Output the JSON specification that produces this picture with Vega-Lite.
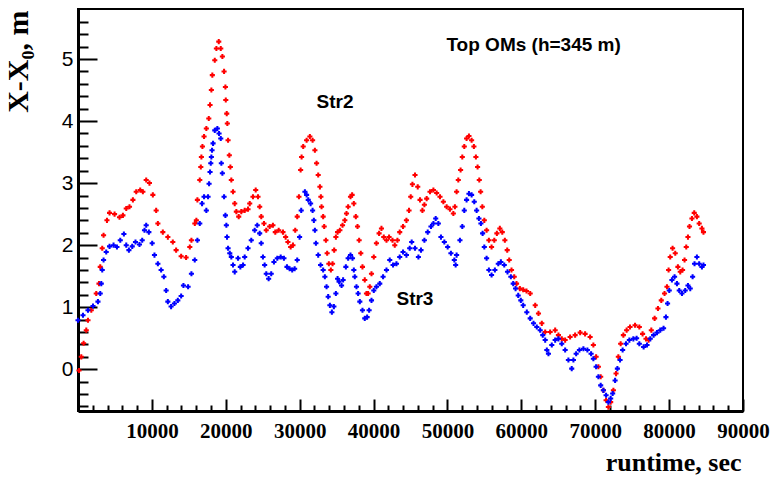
{
  "$schema": "https://vega.github.io/schema/vega-lite/v6.json",
  "autosize": "none",
  "width": 665,
  "height": 402,
  "padding": {"left": 78, "top": 9, "right": 28, "bottom": 69},
  "background": "white",
  "config": {"view": {"stroke": "#000", "strokeWidth": 2}, "axis": {"grid": false}},
  "datasets": {
    "notes": [
      {"label": "Top OMs (h=345 m)", "t": 49860, "v": 5.23},
      {"label": "Str2", "t": 32290, "v": 4.31},
      {"label": "Str3", "t": 43100, "v": 1.14}
    ]
  },
  "layer": [
    {
      "data": {"values": [
        {"s":"Str2","t":135,"v":-0.02},{"s":"Str2","t":446,"v":0.2},{"s":"Str2","t":760,"v":0.42},{"s":"Str2","t":1120,"v":0.63},{"s":"Str2","t":1350,"v":0.79},{"s":"Str2","t":1800,"v":0.95},{"s":"Str2","t":2470,"v":1.22},{"s":"Str2","t":2840,"v":1.38},{"s":"Str2","t":3010,"v":1.65},{"s":"Str2","t":3280,"v":1.95},{"s":"Str2","t":3460,"v":2.16},{"s":"Str2","t":3920,"v":2.4},{"s":"Str2","t":4270,"v":2.52},{"s":"Str2","t":4950,"v":2.5},{"s":"Str2","t":5620,"v":2.45},{"s":"Str2","t":6080,"v":2.48},{"s":"Str2","t":6530,"v":2.59},{"s":"Str2","t":6970,"v":2.62},{"s":"Str2","t":7430,"v":2.73},{"s":"Str2","t":7880,"v":2.86},{"s":"Str2","t":8420,"v":2.89},{"s":"Str2","t":8780,"v":2.86},{"s":"Str2","t":9230,"v":3.05},{"s":"Str2","t":9670,"v":3.0},{"s":"Str2","t":10130,"v":2.81},{"s":"Str2","t":10580,"v":2.56},{"s":"Str2","t":10810,"v":2.35},{"s":"Str2","t":11480,"v":2.21},{"s":"Str2","t":12160,"v":2.13},{"s":"Str2","t":12830,"v":2.05},{"s":"Str2","t":13280,"v":1.92},{"s":"Str2","t":13960,"v":1.82},{"s":"Str2","t":14630,"v":1.8},{"s":"Str2","t":15130,"v":1.97},{"s":"Str2","t":15350,"v":2.08},{"s":"Str2","t":15810,"v":2.35},{"s":"Str2","t":16020,"v":2.4},{"s":"Str2","t":16160,"v":2.73},{"s":"Str2","t":16480,"v":3.05},{"s":"Str2","t":16620,"v":3.26},{"s":"Str2","t":16700,"v":3.42},{"s":"Str2","t":16840,"v":3.59},{"s":"Str2","t":17060,"v":3.75},{"s":"Str2","t":17370,"v":3.88},{"s":"Str2","t":17700,"v":4.04},{"s":"Str2","t":17870,"v":4.26},{"s":"Str2","t":18050,"v":4.5},{"s":"Str2","t":18180,"v":4.74},{"s":"Str2","t":18510,"v":4.98},{"s":"Str2","t":18730,"v":5.17},{"s":"Str2","t":19050,"v":5.28},{"s":"Str2","t":19320,"v":5.17},{"s":"Str2","t":19540,"v":5.04},{"s":"Str2","t":19770,"v":4.8},{"s":"Str2","t":19950,"v":4.55},{"s":"Str2","t":20000,"v":4.34},{"s":"Str2","t":20130,"v":4.12},{"s":"Str2","t":20210,"v":3.96},{"s":"Str2","t":20310,"v":3.69},{"s":"Str2","t":20480,"v":3.45},{"s":"Str2","t":20620,"v":3.26},{"s":"Str2","t":20750,"v":3.05},{"s":"Str2","t":20980,"v":2.86},{"s":"Str2","t":21210,"v":2.67},{"s":"Str2","t":21430,"v":2.54},{"s":"Str2","t":21750,"v":2.46},{"s":"Str2","t":22100,"v":2.54},{"s":"Str2","t":22560,"v":2.56},{"s":"Str2","t":23010,"v":2.58},{"s":"Str2","t":23240,"v":2.67},{"s":"Str2","t":23680,"v":2.78},{"s":"Str2","t":24050,"v":2.89},{"s":"Str2","t":24360,"v":2.78},{"s":"Str2","t":24590,"v":2.62},{"s":"Str2","t":24800,"v":2.46},{"s":"Str2","t":25170,"v":2.35},{"s":"Str2","t":25480,"v":2.24},{"s":"Str2","t":25940,"v":2.3},{"s":"Str2","t":26380,"v":2.32},{"s":"Str2","t":26700,"v":2.21},{"s":"Str2","t":27160,"v":2.24},{"s":"Str2","t":27740,"v":2.21},{"s":"Str2","t":28100,"v":2.13},{"s":"Str2","t":28410,"v":2.05},{"s":"Str2","t":28780,"v":1.97},{"s":"Str2","t":29090,"v":2.0},{"s":"Str2","t":29400,"v":2.24},{"s":"Str2","t":29670,"v":2.46},{"s":"Str2","t":29900,"v":2.78},{"s":"Str2","t":30130,"v":3.21},{"s":"Str2","t":30260,"v":3.42},{"s":"Str2","t":30480,"v":3.59},{"s":"Str2","t":30940,"v":3.69},{"s":"Str2","t":31380,"v":3.75},{"s":"Str2","t":31750,"v":3.69},{"s":"Str2","t":32060,"v":3.53},{"s":"Str2","t":32290,"v":3.32},{"s":"Str2","t":32510,"v":3.13},{"s":"Str2","t":32740,"v":2.94},{"s":"Str2","t":32870,"v":2.78},{"s":"Str2","t":32960,"v":2.62},{"s":"Str2","t":33180,"v":2.46},{"s":"Str2","t":33320,"v":2.3},{"s":"Str2","t":33550,"v":2.08},{"s":"Str2","t":33720,"v":1.87},{"s":"Str2","t":33950,"v":1.7},{"s":"Str2","t":34220,"v":1.6},{"s":"Str2","t":34450,"v":1.7},{"s":"Str2","t":34670,"v":1.92},{"s":"Str2","t":34900,"v":2.13},{"s":"Str2","t":35130,"v":2.21},{"s":"Str2","t":35440,"v":2.24},{"s":"Str2","t":35800,"v":2.32},{"s":"Str2","t":36110,"v":2.4},{"s":"Str2","t":36340,"v":2.51},{"s":"Str2","t":36560,"v":2.62},{"s":"Str2","t":36880,"v":2.78},{"s":"Str2","t":37100,"v":2.81},{"s":"Str2","t":37330,"v":2.67},{"s":"Str2","t":37600,"v":2.46},{"s":"Str2","t":37830,"v":2.3},{"s":"Str2","t":38050,"v":2.08},{"s":"Str2","t":38270,"v":1.87},{"s":"Str2","t":38500,"v":1.65},{"s":"Str2","t":38810,"v":1.44},{"s":"Str2","t":39040,"v":1.22},{"s":"Str2","t":39260,"v":1.22},{"s":"Str2","t":39490,"v":1.33},{"s":"Str2","t":39720,"v":1.54},{"s":"Str2","t":40030,"v":1.81},{"s":"Str2","t":40390,"v":2.03},{"s":"Str2","t":40750,"v":2.19},{"s":"Str2","t":41070,"v":2.27},{"s":"Str2","t":41380,"v":2.13},{"s":"Str2","t":41750,"v":2.08},{"s":"Str2","t":42100,"v":2.13},{"s":"Str2","t":42560,"v":2.08},{"s":"Str2","t":42870,"v":2.0},{"s":"Str2","t":43230,"v":2.08},{"s":"Str2","t":43540,"v":2.21},{"s":"Str2","t":43990,"v":2.3},{"s":"Str2","t":44450,"v":2.4},{"s":"Str2","t":44800,"v":2.56},{"s":"Str2","t":45030,"v":2.78},{"s":"Str2","t":45260,"v":2.98},{"s":"Str2","t":45610,"v":3.13},{"s":"Str2","t":45980,"v":2.94},{"s":"Str2","t":46290,"v":2.73},{"s":"Str2","t":46610,"v":2.56},{"s":"Str2","t":46880,"v":2.65},{"s":"Str2","t":47190,"v":2.75},{"s":"Str2","t":47640,"v":2.86},{"s":"Str2","t":48100,"v":2.89},{"s":"Str2","t":48540,"v":2.84},{"s":"Str2","t":48990,"v":2.78},{"s":"Str2","t":49450,"v":2.7},{"s":"Str2","t":49890,"v":2.62},{"s":"Str2","t":50340,"v":2.58},{"s":"Str2","t":50800,"v":2.51},{"s":"Str2","t":51010,"v":2.62},{"s":"Str2","t":51240,"v":2.86},{"s":"Str2","t":51470,"v":3.05},{"s":"Str2","t":51780,"v":3.21},{"s":"Str2","t":52010,"v":3.42},{"s":"Str2","t":52280,"v":3.59},{"s":"Str2","t":52590,"v":3.72},{"s":"Str2","t":52910,"v":3.76},{"s":"Str2","t":53270,"v":3.69},{"s":"Str2","t":53580,"v":3.59},{"s":"Str2","t":53850,"v":3.42},{"s":"Str2","t":54080,"v":3.26},{"s":"Str2","t":54310,"v":3.05},{"s":"Str2","t":54490,"v":2.86},{"s":"Str2","t":54720,"v":2.62},{"s":"Str2","t":54990,"v":2.4},{"s":"Str2","t":55300,"v":2.24},{"s":"Str2","t":55610,"v":2.08},{"s":"Str2","t":55970,"v":1.97},{"s":"Str2","t":56340,"v":2.08},{"s":"Str2","t":56690,"v":2.19},{"s":"Str2","t":57090,"v":2.27},{"s":"Str2","t":57420,"v":2.21},{"s":"Str2","t":57770,"v":2.08},{"s":"Str2","t":58090,"v":1.92},{"s":"Str2","t":58360,"v":1.76},{"s":"Str2","t":58670,"v":1.6},{"s":"Str2","t":59040,"v":1.49},{"s":"Str2","t":59350,"v":1.38},{"s":"Str2","t":59800,"v":1.3},{"s":"Str2","t":60250,"v":1.28},{"s":"Str2","t":60700,"v":1.26},{"s":"Str2","t":61200,"v":1.22},{"s":"Str2","t":61880,"v":1.03},{"s":"Str2","t":62320,"v":0.9},{"s":"Str2","t":62770,"v":0.74},{"s":"Str2","t":63230,"v":0.6},{"s":"Str2","t":63900,"v":0.6},{"s":"Str2","t":64580,"v":0.63},{"s":"Str2","t":65020,"v":0.55},{"s":"Str2","t":65470,"v":0.49},{"s":"Str2","t":65930,"v":0.47},{"s":"Str2","t":66600,"v":0.52},{"s":"Str2","t":67280,"v":0.55},{"s":"Str2","t":67960,"v":0.59},{"s":"Str2","t":68630,"v":0.57},{"s":"Str2","t":69310,"v":0.52},{"s":"Str2","t":69750,"v":0.39},{"s":"Str2","t":70120,"v":0.2},{"s":"Str2","t":70430,"v":0.04},{"s":"Str2","t":70740,"v":-0.12},{"s":"Str2","t":71110,"v":-0.34},{"s":"Str2","t":71470,"v":-0.5},{"s":"Str2","t":71780,"v":-0.61},{"s":"Str2","t":72090,"v":-0.53},{"s":"Str2","t":72460,"v":-0.34},{"s":"Str2","t":72820,"v":-0.07},{"s":"Str2","t":73130,"v":0.2},{"s":"Str2","t":73440,"v":0.41},{"s":"Str2","t":73810,"v":0.55},{"s":"Str2","t":74250,"v":0.63},{"s":"Str2","t":74710,"v":0.68},{"s":"Str2","t":75390,"v":0.71},{"s":"Str2","t":75970,"v":0.68},{"s":"Str2","t":76410,"v":0.57},{"s":"Str2","t":76870,"v":0.49},{"s":"Str2","t":77220,"v":0.47},{"s":"Str2","t":77590,"v":0.63},{"s":"Str2","t":78040,"v":0.82},{"s":"Str2","t":78490,"v":0.98},{"s":"Str2","t":78940,"v":1.11},{"s":"Str2","t":79380,"v":1.22},{"s":"Str2","t":79710,"v":1.33},{"s":"Str2","t":79930,"v":1.6},{"s":"Str2","t":80150,"v":1.81},{"s":"Str2","t":80470,"v":1.95},{"s":"Str2","t":80830,"v":1.87},{"s":"Str2","t":81190,"v":1.65},{"s":"Str2","t":81510,"v":1.57},{"s":"Str2","t":81820,"v":1.6},{"s":"Str2","t":82090,"v":1.76},{"s":"Str2","t":82320,"v":1.97},{"s":"Str2","t":82550,"v":2.13},{"s":"Str2","t":82760,"v":2.3},{"s":"Str2","t":83090,"v":2.43},{"s":"Str2","t":83400,"v":2.52},{"s":"Str2","t":83760,"v":2.46},{"s":"Str2","t":84070,"v":2.35},{"s":"Str2","t":84440,"v":2.27},{"s":"Str2","t":84650,"v":2.21},
        {"s":"Str3","t":0,"v":0.79},{"s":"Str3","t":675,"v":0.87},{"s":"Str3","t":1350,"v":0.95},{"s":"Str3","t":2030,"v":1.02},{"s":"Str3","t":2700,"v":1.09},{"s":"Str3","t":3010,"v":1.22},{"s":"Str3","t":3150,"v":1.38},{"s":"Str3","t":3280,"v":1.6},{"s":"Str3","t":3460,"v":1.76},{"s":"Str3","t":3820,"v":1.89},{"s":"Str3","t":4270,"v":1.98},{"s":"Str3","t":4810,"v":2.0},{"s":"Str3","t":5270,"v":1.97},{"s":"Str3","t":5720,"v":2.08},{"s":"Str3","t":6210,"v":2.18},{"s":"Str3","t":6530,"v":2.0},{"s":"Str3","t":6890,"v":1.92},{"s":"Str3","t":7340,"v":1.98},{"s":"Str3","t":7780,"v":2.05},{"s":"Str3","t":8320,"v":2.01},{"s":"Str3","t":8690,"v":2.08},{"s":"Str3","t":9000,"v":2.24},{"s":"Str3","t":9230,"v":2.32},{"s":"Str3","t":9590,"v":2.21},{"s":"Str3","t":10040,"v":2.03},{"s":"Str3","t":10350,"v":1.84},{"s":"Str3","t":10810,"v":1.7},{"s":"Str3","t":11250,"v":1.6},{"s":"Str3","t":11620,"v":1.49},{"s":"Str3","t":11930,"v":1.27},{"s":"Str3","t":12160,"v":1.09},{"s":"Str3","t":12600,"v":1.01},{"s":"Str3","t":13050,"v":1.06},{"s":"Str3","t":13510,"v":1.11},{"s":"Str3","t":13960,"v":1.18},{"s":"Str3","t":14270,"v":1.35},{"s":"Str3","t":14900,"v":1.33},{"s":"Str3","t":15350,"v":1.54},{"s":"Str3","t":15800,"v":1.76},{"s":"Str3","t":16160,"v":2.08},{"s":"Str3","t":16480,"v":2.35},{"s":"Str3","t":16790,"v":2.67},{"s":"Str3","t":17060,"v":2.78},{"s":"Str3","t":17370,"v":2.56},{"s":"Str3","t":17600,"v":2.78},{"s":"Str3","t":17740,"v":2.99},{"s":"Str3","t":17870,"v":3.18},{"s":"Str3","t":17970,"v":3.32},{"s":"Str3","t":18050,"v":3.42},{"s":"Str3","t":18140,"v":3.53},{"s":"Str3","t":18280,"v":3.64},{"s":"Str3","t":18510,"v":3.85},{"s":"Str3","t":18860,"v":3.88},{"s":"Str3","t":19090,"v":3.8},{"s":"Str3","t":19320,"v":3.72},{"s":"Str3","t":19400,"v":3.32},{"s":"Str3","t":19540,"v":3.16},{"s":"Str3","t":19770,"v":2.78},{"s":"Str3","t":19950,"v":2.48},{"s":"Str3","t":20080,"v":2.32},{"s":"Str3","t":20170,"v":2.13},{"s":"Str3","t":20310,"v":1.95},{"s":"Str3","t":20540,"v":1.87},{"s":"Str3","t":20750,"v":1.81},{"s":"Str3","t":20980,"v":1.68},{"s":"Str3","t":21210,"v":1.57},{"s":"Str3","t":21660,"v":1.79},{"s":"Str3","t":21970,"v":1.65},{"s":"Str3","t":22340,"v":1.68},{"s":"Str3","t":22560,"v":1.81},{"s":"Str3","t":23010,"v":1.95},{"s":"Str3","t":23450,"v":2.08},{"s":"Str3","t":23910,"v":2.24},{"s":"Str3","t":24260,"v":2.32},{"s":"Str3","t":24590,"v":2.19},{"s":"Str3","t":24800,"v":2.03},{"s":"Str3","t":25030,"v":1.81},{"s":"Str3","t":25260,"v":1.68},{"s":"Str3","t":25480,"v":1.54},{"s":"Str3","t":25800,"v":1.46},{"s":"Str3","t":26150,"v":1.54},{"s":"Str3","t":26520,"v":1.73},{"s":"Str3","t":26970,"v":1.79},{"s":"Str3","t":27430,"v":1.81},{"s":"Str3","t":27870,"v":1.79},{"s":"Str3","t":28280,"v":1.65},{"s":"Str3","t":28640,"v":1.62},{"s":"Str3","t":28990,"v":1.6},{"s":"Str3","t":29320,"v":1.62},{"s":"Str3","t":29670,"v":1.76},{"s":"Str3","t":29990,"v":2.13},{"s":"Str3","t":30210,"v":2.56},{"s":"Str3","t":30710,"v":2.86},{"s":"Str3","t":30940,"v":2.81},{"s":"Str3","t":31160,"v":2.73},{"s":"Str3","t":31480,"v":2.67},{"s":"Str3","t":31750,"v":2.56},{"s":"Str3","t":31920,"v":2.4},{"s":"Str3","t":32060,"v":2.24},{"s":"Str3","t":32200,"v":2.03},{"s":"Str3","t":32510,"v":1.84},{"s":"Str3","t":32830,"v":1.68},{"s":"Str3","t":33180,"v":1.6},{"s":"Str3","t":33410,"v":1.49},{"s":"Str3","t":33640,"v":1.33},{"s":"Str3","t":33860,"v":1.17},{"s":"Str3","t":34090,"v":1.03},{"s":"Str3","t":34360,"v":0.92},{"s":"Str3","t":34630,"v":1.01},{"s":"Str3","t":34900,"v":1.22},{"s":"Str3","t":35130,"v":1.46},{"s":"Str3","t":35340,"v":1.41},{"s":"Str3","t":35670,"v":1.35},{"s":"Str3","t":35880,"v":1.44},{"s":"Str3","t":36250,"v":1.65},{"s":"Str3","t":36560,"v":1.79},{"s":"Str3","t":36880,"v":1.84},{"s":"Str3","t":37150,"v":1.79},{"s":"Str3","t":37330,"v":1.6},{"s":"Str3","t":37460,"v":1.49},{"s":"Str3","t":37690,"v":1.33},{"s":"Str3","t":37910,"v":1.22},{"s":"Str3","t":38140,"v":1.09},{"s":"Str3","t":38500,"v":0.95},{"s":"Str3","t":38810,"v":0.82},{"s":"Str3","t":39130,"v":0.84},{"s":"Str3","t":39400,"v":0.95},{"s":"Str3","t":39720,"v":1.11},{"s":"Str3","t":40030,"v":1.27},{"s":"Str3","t":40390,"v":1.33},{"s":"Str3","t":40840,"v":1.38},{"s":"Str3","t":41290,"v":1.49},{"s":"Str3","t":41750,"v":1.6},{"s":"Str3","t":42190,"v":1.76},{"s":"Str3","t":42640,"v":1.68},{"s":"Str3","t":43100,"v":1.7},{"s":"Str3","t":43540,"v":1.81},{"s":"Str3","t":43990,"v":1.89},{"s":"Str3","t":44450,"v":1.84},{"s":"Str3","t":44890,"v":1.95},{"s":"Str3","t":45160,"v":2.05},{"s":"Str3","t":45610,"v":1.95},{"s":"Str3","t":46070,"v":1.81},{"s":"Str3","t":46420,"v":1.92},{"s":"Str3","t":46880,"v":2.08},{"s":"Str3","t":47330,"v":2.21},{"s":"Str3","t":47770,"v":2.3},{"s":"Str3","t":48100,"v":2.35},{"s":"Str3","t":48410,"v":2.43},{"s":"Str3","t":48770,"v":2.35},{"s":"Str3","t":49120,"v":2.13},{"s":"Str3","t":49580,"v":2.05},{"s":"Str3","t":50030,"v":1.97},{"s":"Str3","t":50470,"v":1.87},{"s":"Str3","t":50930,"v":1.76},{"s":"Str3","t":51110,"v":1.68},{"s":"Str3","t":51240,"v":1.84},{"s":"Str3","t":51690,"v":2.08},{"s":"Str3","t":52010,"v":2.3},{"s":"Str3","t":52280,"v":2.56},{"s":"Str3","t":52590,"v":2.73},{"s":"Str3","t":52910,"v":2.83},{"s":"Str3","t":53270,"v":2.81},{"s":"Str3","t":53630,"v":2.7},{"s":"Str3","t":53950,"v":2.56},{"s":"Str3","t":54260,"v":2.43},{"s":"Str3","t":54530,"v":2.35},{"s":"Str3","t":54760,"v":2.19},{"s":"Str3","t":54990,"v":1.97},{"s":"Str3","t":55300,"v":1.79},{"s":"Str3","t":55610,"v":1.6},{"s":"Str3","t":55970,"v":1.52},{"s":"Str3","t":56420,"v":1.6},{"s":"Str3","t":56880,"v":1.7},{"s":"Str3","t":57230,"v":1.73},{"s":"Str3","t":57690,"v":1.68},{"s":"Str3","t":58130,"v":1.57},{"s":"Str3","t":58580,"v":1.49},{"s":"Str3","t":58900,"v":1.38},{"s":"Str3","t":59220,"v":1.3},{"s":"Str3","t":59580,"v":1.19},{"s":"Str3","t":59930,"v":1.11},{"s":"Str3","t":60250,"v":1.03},{"s":"Str3","t":60740,"v":0.92},{"s":"Str3","t":61200,"v":0.82},{"s":"Str3","t":61650,"v":0.74},{"s":"Str3","t":62090,"v":0.68},{"s":"Str3","t":62550,"v":0.63},{"s":"Str3","t":62900,"v":0.55},{"s":"Str3","t":63230,"v":0.47},{"s":"Str3","t":63450,"v":0.31},{"s":"Str3","t":63670,"v":0.25},{"s":"Str3","t":64120,"v":0.39},{"s":"Str3","t":64580,"v":0.47},{"s":"Str3","t":65020,"v":0.49},{"s":"Str3","t":65470,"v":0.41},{"s":"Str3","t":65930,"v":0.31},{"s":"Str3","t":66370,"v":0.15},{"s":"Str3","t":66820,"v":0.01},{"s":"Str3","t":67050,"v":0.15},{"s":"Str3","t":67420,"v":0.25},{"s":"Str3","t":67860,"v":0.31},{"s":"Str3","t":68400,"v":0.33},{"s":"Str3","t":68940,"v":0.31},{"s":"Str3","t":69440,"v":0.25},{"s":"Str3","t":69750,"v":0.17},{"s":"Str3","t":70120,"v":0.04},{"s":"Str3","t":70430,"v":-0.12},{"s":"Str3","t":70740,"v":-0.26},{"s":"Str3","t":71110,"v":-0.34},{"s":"Str3","t":71470,"v":-0.42},{"s":"Str3","t":71780,"v":-0.53},{"s":"Str3","t":72090,"v":-0.47},{"s":"Str3","t":72360,"v":-0.39},{"s":"Str3","t":72690,"v":-0.18},{"s":"Str3","t":73000,"v":0.01},{"s":"Str3","t":73360,"v":0.15},{"s":"Str3","t":73710,"v":0.31},{"s":"Str3","t":74170,"v":0.41},{"s":"Str3","t":74620,"v":0.47},{"s":"Str3","t":75160,"v":0.49},{"s":"Str3","t":75600,"v":0.5},{"s":"Str3","t":75970,"v":0.41},{"s":"Str3","t":76550,"v":0.36},{"s":"Str3","t":77010,"v":0.39},{"s":"Str3","t":77450,"v":0.49},{"s":"Str3","t":77900,"v":0.55},{"s":"Str3","t":78360,"v":0.59},{"s":"Str3","t":78800,"v":0.63},{"s":"Str3","t":79250,"v":0.66},{"s":"Str3","t":79570,"v":0.84},{"s":"Str3","t":79790,"v":1.06},{"s":"Str3","t":80020,"v":1.27},{"s":"Str3","t":80380,"v":1.44},{"s":"Str3","t":80740,"v":1.49},{"s":"Str3","t":81060,"v":1.38},{"s":"Str3","t":81370,"v":1.27},{"s":"Str3","t":81740,"v":1.22},{"s":"Str3","t":82180,"v":1.27},{"s":"Str3","t":82550,"v":1.35},{"s":"Str3","t":82860,"v":1.3},{"s":"Str3","t":83180,"v":1.49},{"s":"Str3","t":83440,"v":1.7},{"s":"Str3","t":83760,"v":1.81},{"s":"Str3","t":84070,"v":1.7},{"s":"Str3","t":84440,"v":1.65},{"s":"Str3","t":84650,"v":1.68}
      ]},
      "mark": {"type": "point", "shape": "cross", "filled": true, "size": 26, "opacity": 1},
      "encoding": {
        "x": {
          "field": "t", "type": "quantitative",
          "scale": {"domain": [0, 90000], "nice": false, "zero": false},
          "axis": {
            "orient": "bottom",
            "values": [10000, 20000, 30000, 40000, 50000, 60000, 70000, 80000, 90000],
            "format": "d",
            "tickSize": -12, "tickWidth": 2, "tickColor": "#000",
            "domainColor": "#000", "domainWidth": 3,
            "labelFont": "Liberation Serif", "labelFontWeight": "bold", "labelFontSize": 21,
            "labelColor": "#000", "labelPadding": 21, "labelFlush": false, "labelOverlap": false,
            "title": "runtime, sec",
            "titleFont": "Liberation Serif", "titleFontWeight": "bold", "titleFontSize": 26,
            "titleColor": "#000", "titleAlign": "right", "titleBaseline": "alphabetic",
            "titleX": 663, "titleY": 59
          }
        },
        "y": {
          "field": "v", "type": "quantitative",
          "scale": {"domain": [-0.673, 5.806], "nice": false, "zero": false},
          "axis": {
            "orient": "left",
            "values": [0, 1, 2, 3, 4, 5],
            "tickSize": -19, "tickWidth": 2, "tickColor": "#000",
            "domainColor": "#000", "domainWidth": 3,
            "labelFont": "Liberation Sans", "labelFontSize": 21,
            "labelColor": "#000", "labelPadding": 24, "labelFlush": false, "labelOverlap": false,
            "title": "X-X₀, m",
            "titleFont": "Liberation Serif", "titleFontWeight": "bold", "titleFontSize": 30,
            "titleColor": "#000", "titleAngle": 270, "titleAlign": "right", "titleBaseline": "middle",
            "titleX": -60, "titleY": 1
          }
        },
        "color": {
          "field": "s", "type": "nominal",
          "scale": {"domain": ["Str2", "Str3"], "range": ["#ff0000", "#0000ff"]},
          "legend": null
        }
      }
    },
    {
      "data": {"name": "notes"},
      "mark": {"type": "text", "align": "left", "baseline": "middle", "font": "Liberation Sans", "fontWeight": "bold", "fontSize": 19, "color": "#000"},
      "encoding": {
        "text": {"field": "label"},
        "x": {
          "field": "t", "type": "quantitative",
          "axis": {
            "orient": "bottom",
            "values": [2000, 4000, 6000, 8000, 12000, 14000, 16000, 18000, 22000, 24000, 26000, 28000, 32000, 34000, 36000, 38000, 42000, 44000, 46000, 48000, 52000, 54000, 56000, 58000, 62000, 64000, 66000, 68000, 72000, 74000, 76000, 78000, 82000, 84000, 86000, 88000],
            "tickSize": -6, "tickWidth": 2, "tickColor": "#000",
            "domain": false, "labels": false, "title": null
          }
        },
        "y": {
          "field": "v", "type": "quantitative",
          "axis": {
            "orient": "left",
            "values": [-0.6, -0.4, -0.2, 0.2, 0.4, 0.6, 0.8, 1.2, 1.4, 1.6, 1.8, 2.2, 2.4, 2.6, 2.8, 3.2, 3.4, 3.6, 3.8, 4.2, 4.4, 4.6, 4.8, 5.2, 5.4, 5.6],
            "tickSize": -10, "tickWidth": 2, "tickColor": "#000",
            "domain": false, "labels": false, "title": null
          }
        }
      }
    }
  ],
  "resolve": {"axis": {"x": "independent", "y": "independent"}}
}
